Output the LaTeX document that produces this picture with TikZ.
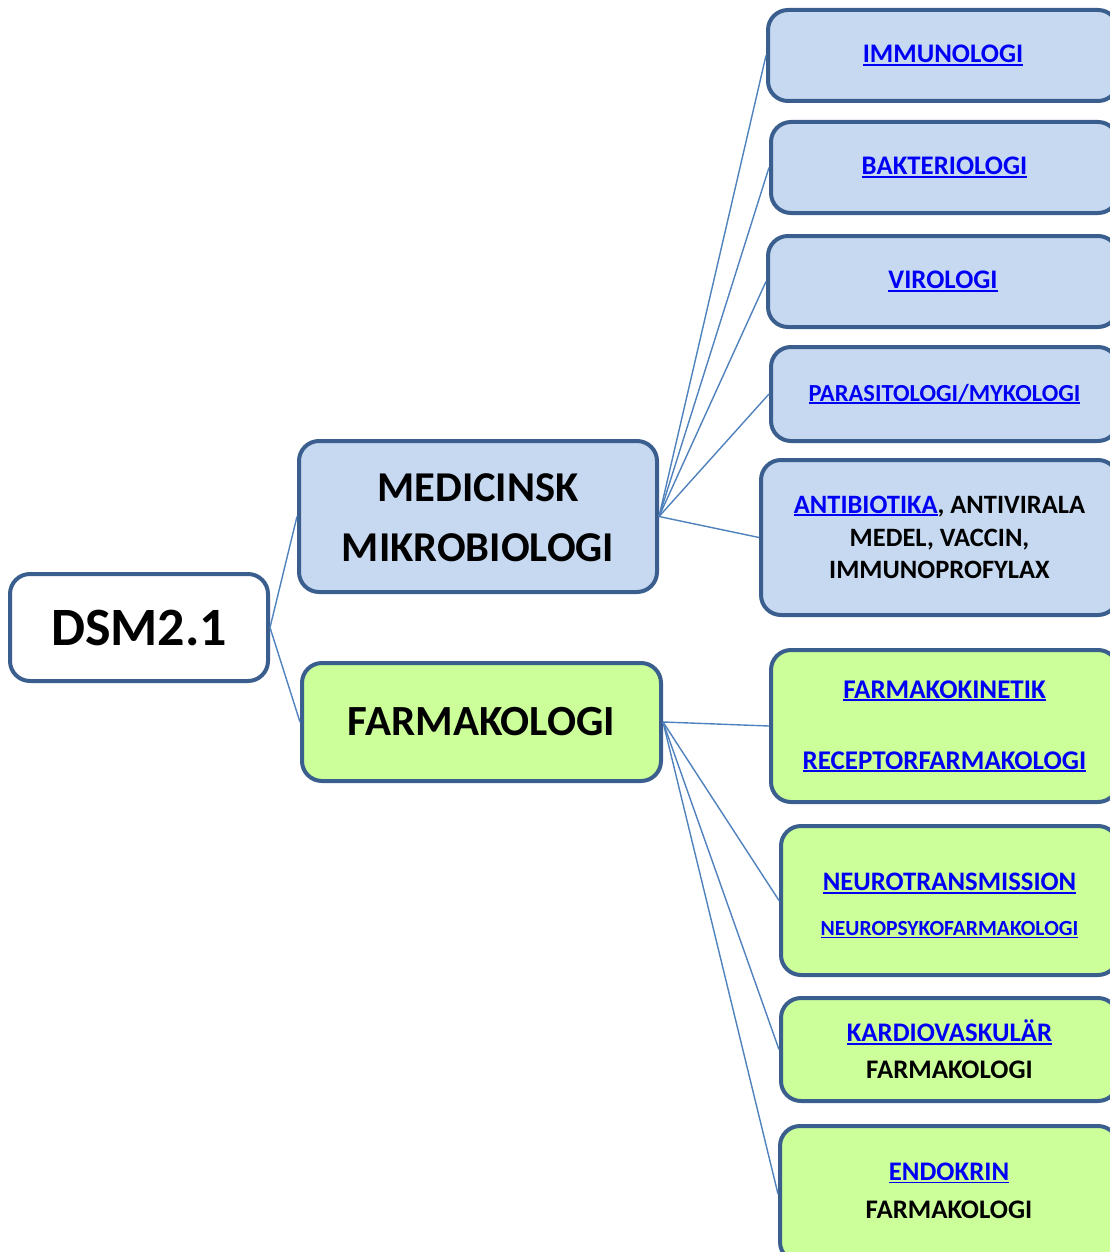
\documentclass[tikz,border=0pt]{standalone}
\usepackage{fontspec}
\setmainfont{Carlito}
\definecolor{boxborder}{HTML}{3A5F8E}
\definecolor{linkline}{HTML}{4F81BD}
\definecolor{bluefill}{HTML}{C6D9F1}
\definecolor{greenfill}{HTML}{CCFF99}
\definecolor{linkblue}{RGB}{0,0,245}
\newcommand\lnk[1]{{\color{linkblue}\setbox0=\hbox{#1}\rlap{\copy0}\rule[-0.1em]{\wd0}{0.07em}}}
\newcommand\fs[2]{\fontsize{#1}{#2}\selectfont}
\tikzset{
  basebox/.style={draw=boxborder, line width=4pt, rounded corners=20pt, inner sep=0pt, align=center},
  bluebox/.style={basebox, fill=bluefill},
  greenbox/.style={basebox, fill=greenfill},
  whitebox/.style={basebox, fill=white},
  conn/.style={draw=linkline, line width=1.4pt},
}
\begin{document}
\begin{tikzpicture}[x=1pt,y=-1pt]
\useasboundingbox (0,0) rectangle (1110,1252);
\clip (0,0) rectangle (1110,1252);
% root
\node[whitebox, minimum width=258pt, minimum height=107pt, font=\bfseries\fs{54}{60}] (dsm) at (139,627.5) {DSM2.1};
% level 1
\node[bluebox, minimum width=358pt, minimum height=151pt, font=\bfseries\fs{42.5}{60}] (med) at (478,516.5) {\rule{0pt}{31pt}MEDICINSK\\MIKROBIOLOGI};
\node[greenbox, minimum width=359pt, minimum height=118pt, font=\bfseries\fs{43}{50}] (farm) at (481.5,722) {FARMAKOLOGI};
% level 2 blue
\node[bluebox, minimum width=350pt, minimum height=91pt, font=\bfseries\fs{26.8}{30}] (imm) at (943,55.5) {\lnk{IMMUNOLOGI}};
\node[bluebox, minimum width=347pt, minimum height=91pt, font=\bfseries\fs{26.8}{30}] (bak) at (944.5,167.5) {\lnk{BAKTERIOLOGI}};
\node[bluebox, minimum width=350pt, minimum height=91pt, font=\bfseries\fs{26.8}{30}] (vir) at (943,281.5) {\lnk{VIROLOGI}};
\node[bluebox, minimum width=347pt, minimum height=94pt, font=\bfseries\fs{24.5}{30}] (par) at (944.5,394) {\lnk{PARASITOLOGI/MYKOLOGI}};
\node[bluebox, minimum width=357pt, minimum height=155pt, font=\bfseries\fs{26.5}{32.5}] (ant) at (939.5,537.5) {\lnk{ANTIBIOTIKA}, ANTIVIRALA\\MEDEL, VACCIN,\\IMMUNOPROFYLAX};
% level 2 green
\node[greenbox, minimum width=347pt, minimum height=152pt, font=\bfseries\fs{27}{71}] (kin) at (944.5,726) {\lnk{FARMAKOKINETIK}\\\lnk{RECEPTORFARMAKOLOGI}};
\node[greenbox, minimum width=337pt, minimum height=149pt, font=\bfseries\fs{26.7}{45}] (neu) at (949.5,900.5) {\rule{0pt}{28pt}\lnk{NEUROTRANSMISSION}\\{\fs{21.6}{45}\lnk{NEUROPSYKOFARMAKOLOGI}}};
\node[greenbox, minimum width=337pt, minimum height=103pt, font=\bfseries\fs{26.8}{37}] (kar) at (949.5,1049.5) {\lnk{KARDIOVASKULÄR}\\FARMAKOLOGI};
\node[greenbox, minimum width=338pt, minimum height=136pt, font=\bfseries\fs{26.8}{38}] (end) at (949,1194) {\lnk{ENDOKRIN}\\FARMAKOLOGI\rule[-6pt]{0pt}{6pt}};
% connectors
\draw[conn] (dsm.east) -- (med.west);
\draw[conn] (dsm.east) -- (farm.west);
\foreach \t in {imm,bak,vir,par,ant} \draw[conn] (med.east) -- (\t.west);
\foreach \t in {kin,neu,kar,end} \draw[conn] (farm.east) -- (\t.west);
\end{tikzpicture}
\end{document}
